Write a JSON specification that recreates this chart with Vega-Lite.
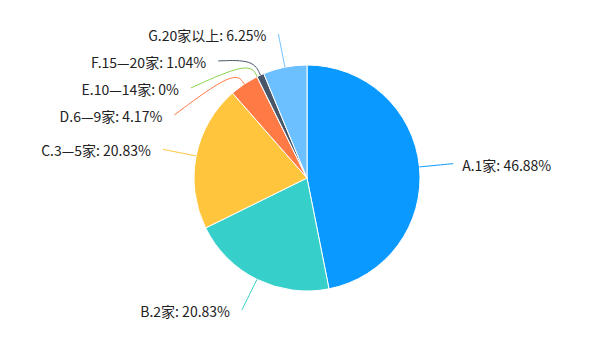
{
  "$schema": "https://vega.github.io/schema/vega-lite/v6.json",
  "width": 600,
  "height": 340,
  "autosize": {"type": "fit", "contains": "padding"},
  "padding": {"left": 14, "top": 16, "right": 0, "bottom": 0},
  "background": "white",
  "config": {"view": {"stroke": null}, "text": {"font": "Noto Sans CJK SC"}},
  "data": {
    "values": [
      {"name": "A.1家", "value": 46.88},
      {"name": "B.2家", "value": 20.83},
      {"name": "C.3—5家", "value": 20.83},
      {"name": "D.6—9家", "value": 4.17},
      {"name": "E.10—14家", "value": 0},
      {"name": "F.15—20家", "value": 1.04},
      {"name": "G.20家以上", "value": 6.25}
    ]
  },
  "transform": [
    {"joinaggregate": [{"op": "sum", "field": "value", "as": "total"}]},
    {"window": [{"op": "sum", "field": "value", "as": "cum"}], "sort": [{"field": "name", "order": "ascending"}], "frame": [null, 0]},
    {"calculate": "2*PI*(datum.cum - datum.value/2)/datum.total", "as": "mid"},
    {"calculate": "sin(datum.mid)", "as": "sx"},
    {"calculate": "cos(datum.mid)", "as": "cy"},
    {"calculate": "datum.sx >= 0 ? 'R' : 'L'", "as": "side"},
    {"calculate": "1.3*datum.cy", "as": "ny"},
    {"window": [{"op": "row_number", "as": "rn"}], "groupby": ["side"], "sort": [{"field": "ny", "order": "descending"}]},
    {"calculate": "datum.ny + (datum.rn-1)*0.239", "as": "k"},
    {"window": [{"op": "min", "field": "k", "as": "kmin"}], "groupby": ["side"], "sort": [{"field": "ny", "order": "descending"}], "frame": [null, 0]},
    {"calculate": "datum.kmin - (datum.rn-1)*0.239", "as": "ly"},
    {"calculate": "(datum.side=='R'?1:-1)*sqrt(max(0,1.69-datum.ly*datum.ly))", "as": "lx"},
    {"calculate": "datum.name + ': ' + datum.value + '%'", "as": "label"},
    {"calculate": "datum.sx", "as": "x0"},
    {"calculate": "datum.cy", "as": "y0"},
    {"calculate": "1.15*datum.sx", "as": "x1"},
    {"calculate": "1.15*datum.cy", "as": "y1"},
    {"calculate": "datum.lx", "as": "x2"},
    {"calculate": "datum.ly", "as": "y2"}
  ],
  "layer": [
    {
      "mark": {"type": "arc", "radius": 113, "stroke": "white", "strokeWidth": 1},
      "encoding": {
        "theta": {"field": "value", "type": "quantitative", "stack": true},
        "order": {"field": "name", "sort": "ascending"},
        "color": {
          "field": "name", "type": "nominal", "legend": null,
          "scale": {
            "domain": ["A.1家", "B.2家", "C.3—5家", "D.6—9家", "E.10—14家", "F.15—20家", "G.20家以上"],
            "range": ["#0A99FF", "#36CFC9", "#FFC53D", "#FF7A45", "#8BD44E", "#475669", "#6CC0FF"]
          }
        }
      }
    },
    {
      "transform": [
        {"fold": ["x0", "x1", "x2"], "as": ["pt", "px"]},
        {"calculate": "datum.pt=='x0' ? datum.y0 : (datum.pt=='x1' ? datum.y1 : datum.y2)", "as": "py"}
      ],
      "mark": {"type": "line", "strokeWidth": 1, "interpolate": "basis"},
      "encoding": {
        "x": {"field": "px", "type": "quantitative", "axis": null, "scale": {"domain": [-2.5929, 2.5929], "nice": false, "zero": false}},
        "y": {"field": "py", "type": "quantitative", "axis": null, "scale": {"domain": [-1.4336, 1.4336], "nice": false, "zero": false}},
        "color": {"field": "name", "type": "nominal", "legend": null},
        "detail": {"field": "name"},
        "order": {"field": "pt"}
      }
    },
    {
      "transform": [{"filter": "datum.side == 'L'"}],
      "mark": {"type": "text", "align": "right", "baseline": "middle", "dx": -12, "dy": 3, "fontSize": 14, "color": "#222222"},
      "encoding": {
        "x": {"field": "lx", "type": "quantitative", "axis": null, "scale": {"domain": [-2.5929, 2.5929], "nice": false, "zero": false}},
        "y": {"field": "ly", "type": "quantitative", "axis": null, "scale": {"domain": [-1.4336, 1.4336], "nice": false, "zero": false}},
        "text": {"field": "label"}
      }
    },
    {
      "transform": [{"filter": "datum.side == 'R'"}],
      "mark": {"type": "text", "align": "left", "baseline": "middle", "dx": 9, "dy": 3, "fontSize": 14, "color": "#222222"},
      "encoding": {
        "x": {"field": "lx", "type": "quantitative", "axis": null, "scale": {"domain": [-2.5929, 2.5929], "nice": false, "zero": false}},
        "y": {"field": "ly", "type": "quantitative", "axis": null, "scale": {"domain": [-1.4336, 1.4336], "nice": false, "zero": false}},
        "text": {"field": "label"}
      }
    }
  ]
}
